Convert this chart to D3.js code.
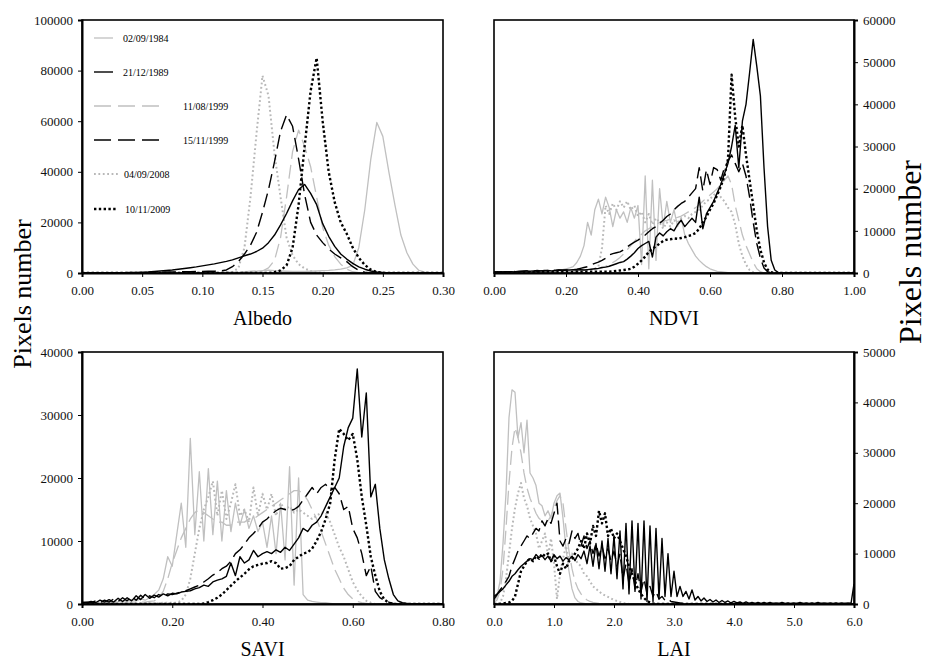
<!DOCTYPE html>
<html>
<head>
<meta charset="utf-8">
<script src="https://cdn.jsdelivr.net/npm/d3@7"></script>
<style>
  body { margin: 0; background: #fff; }
  svg { display: block; font-family: "Liberation Serif", "Times New Roman", serif; }
  .tick text { font-size: 13px; fill: #111; font-family: "Liberation Serif", "Times New Roman", serif; }
  .tick line { stroke: #000; }
</style>
</head>
<body>
<div id="chart"></div>
<script>
/* DATA */
const dates = ["02/09/1984", "21/12/1989", "11/08/1999", "15/11/1999", "04/09/2008", "10/11/2009"];

// bin widths of the four histograms
const albedoStep = 0.005, ndviStep = 0.01, saviStep = 0.01, laiStep = 0.05;

// Albedo, bins 0.000 .. 0.300
const albedo1984 = [
  0,0,0,0,0,0,0,0,0,0,
  0,0,0,0,0,0,0,0,0,0,
  0,0,0,0,0,0,200,400,600,700,
  900,1100,900,800,700,600,600,600,700,800,
  900,1000,1200,1500,2000,3000,10000,25000,45000,59500,
  54000,40000,27000,15000,8000,3500,1000,300,100,0,
  0];
const albedo1989 = [
  0,0,0,0,0,50,100,150,200,250,
  300,400,600,800,1000,1200,1500,1800,2100,2400,
  2800,3200,3600,4100,4600,5200,6000,6800,7500,8500,
  9800,12000,15000,19000,23500,28500,33000,35000,31500,27000,
  19500,14500,10500,7500,5500,3800,2400,1500,800,400,
  200,100,0,0,0,0,0,0,0,0,
  0];
const albedo1999a = [
  0,0,0,0,0,0,0,0,0,0,
  0,0,0,0,0,0,0,0,0,0,
  100,100,200,200,300,300,400,500,600,700,
  800,2000,5000,14000,30000,48000,56500,50000,42000,30000,
  18000,11000,6500,3500,1500,500,100,0,0,0,
  0,0,0,0,0,0,0,0,0,0,
  0];
const albedo1999b = [
  0,0,0,0,0,0,0,0,0,0,
  100,200,300,300,400,400,500,500,500,600,
  600,700,700,800,1200,2500,4500,7500,11000,16000,
  24000,33000,44000,56000,62500,58000,45000,31000,20000,15000,
  12000,9500,7500,6000,4500,2500,1000,300,0,0,
  0,0,0,0,0,0,0,0,0,0,
  0];
const albedo2008 = [
  0,0,0,0,0,0,0,0,0,0,
  0,0,0,0,0,0,0,0,0,0,
  0,0,0,0,100,300,2000,10000,30000,55000,
  78000,70000,47000,30000,14000,7000,3500,1800,800,300,
  100,0,0,0,0,0,0,0,0,0,
  0,0,0,0,0,0,0,0,0,0,
  0];
const albedo2009 = [
  0,0,0,0,0,0,0,0,0,0,
  0,0,0,0,0,0,0,0,0,0,
  0,0,0,0,0,0,0,0,0,0,
  0,0,300,1000,3000,10000,27000,50000,72000,85000,
  60000,40000,28000,20000,15500,10000,6000,3200,1300,400,
  100,0,0,0,0,0,0,0,0,0,
  0];

// NDVI, bins 0.00 .. 1.00
const ndvi1984 = [
  0,0,100,100,100,100,200,200,200,200,
  200,200,300,300,300,400,400,500,600,800,
  1000,1200,1500,2500,4000,6500,12000,9000,15000,17500,
  14000,18000,15500,11000,15000,13000,14500,12000,15500,13000,
  16000,2000,23000,1000,22000,3000,20000,11000,17000,12000,
  15000,11000,13000,9000,7000,5500,4000,3000,2200,1500,
  1000,700,400,300,200,100,0,0,0,0,
  0,0,0,0,0,0,0,0,0,0,
  0,0,0,0,0,0,0,0,0,0,
  0,0,0,0,0,0,0,0,0,0,
  0];
const ndvi1989 = [
  300,200,300,200,300,300,200,300,400,500,
  400,500,400,500,500,600,500,600,700,600,
  700,700,800,700,800,700,800,900,1000,1100,
  1300,1400,1600,1900,2200,2500,2700,3300,4000,4800,
  5800,6500,7000,7500,3800,8500,9500,8800,9800,10500,
  10000,11500,12500,11000,12000,13000,12000,18000,10500,14000,
  15500,17000,19000,21000,23500,26000,30000,35000,25000,36000,
  40000,47500,55400,49000,42000,25000,11000,3000,700,100,
  0,0,0,0,0,0,0,0,0,0,
  0,0,0,0,0,0,0,0,0,0,
  0];
const ndvi1999a = [
  0,0,100,100,100,200,200,200,300,300,
  300,300,400,400,400,400,500,500,500,500,
  500,500,500,550,600,600,600,700,800,1000,
  1200,1600,2000,2500,3000,3700,4500,5500,6500,7500,
  8500,9200,10000,10500,11000,11500,12000,12300,12500,12800,
  13000,13200,13500,14000,14500,15000,15500,16200,17000,17800,
  18500,19200,20000,21000,22000,23000,21000,16000,12500,9000,
  6500,4500,2500,1000,300,0,0,0,0,0,
  0,0,0,0,0,0,0,0,0,0,
  0,0,0,0,0,0,0,0,0,0,
  0];
const ndvi1999b = [
  200,300,200,300,300,400,300,400,400,500,
  500,500,600,500,600,600,700,600,700,700,
  700,700,800,900,1100,1300,1500,1900,2300,2600,
  3000,3500,4300,4600,4800,5000,5500,6200,6800,7300,
  7800,8400,9000,9800,10500,11000,11800,12500,13400,14000,
  15000,15800,16500,17000,18000,19000,20000,25000,19500,24500,
  21000,25000,24500,22000,25000,26500,28000,26000,24000,26000,
  23000,18000,12000,7000,3500,1200,300,0,0,0,
  0,0,0,0,0,0,0,0,0,0,
  0,0,0,0,0,0,0,0,0,0,
  0];
const ndvi2008 = [
  0,0,0,100,100,100,100,200,200,200,
  200,200,200,300,300,300,300,400,400,400,
  400,400,500,500,500,600,700,800,1000,1500,
  6000,16000,14000,16500,15000,17000,15500,17000,15000,16000,
  13500,14500,12000,14000,11500,13000,12000,10500,12000,11000,
  12500,12000,13000,13500,13000,14000,14500,15000,16000,17000,
  17500,18500,19000,18000,17000,15500,14500,11500,7000,4000,
  2000,700,200,0,0,0,0,0,0,0,
  0,0,0,0,0,0,0,0,0,0,
  0,0,0,0,0,0,0,0,0,0,
  0];
const ndvi2009 = [
  0,0,100,100,100,100,100,100,200,200,
  200,200,200,200,200,200,200,300,300,300,
  300,300,300,300,300,300,300,300,300,300,
  300,300,300,400,500,600,700,800,1000,1500,
  2200,3000,3900,5000,5800,6300,7000,7600,7900,8000,
  8200,8100,8300,8500,8800,9000,9500,10500,12000,13300,
  15000,16500,18500,20500,23000,27000,47000,37000,30000,35000,
  28000,22000,16000,10000,5500,2500,800,200,0,0,
  0,0,0,0,0,0,0,0,0,0,
  0,0,0,0,0,0,0,0,0,0,
  0];

// SAVI, bins 0.00 .. 0.80
const savi1984 = [
  200,300,200,300,200,400,300,400,300,500,
  500,700,500,800,600,1000,1500,2200,4000,7500,
  6000,11000,16000,9000,26300,11000,21000,10000,21500,11000,
  19500,10000,18000,11500,16000,12500,15000,12000,14000,11500,
  13000,9000,14000,8000,16000,7000,21800,3000,20000,1500,
  600,400,300,200,200,100,0,0,0,0,
  0,0,0,0,0,0,0,0,0,0,
  0,0,0,0,0,0,0,0,0,0,
  0];
const savi1989 = [
  300,200,400,200,600,300,700,300,900,400,
  1000,500,1300,700,1500,900,1400,1100,1600,1300,
  1700,1600,1900,2000,2100,2400,2600,3000,2800,3500,
  3800,4000,4400,6500,4500,7500,6500,7000,8500,7500,
  8000,8300,8000,8600,8200,9000,8500,9500,10500,12000,
  11500,12500,13000,14000,15500,17000,18500,20000,25000,28000,
  29500,37300,26500,33500,17000,19000,12000,7000,4000,1500,
  500,200,100,0,0,0,0,0,0,0,
  0];
const savi1999a = [
  100,100,100,100,200,200,200,200,300,300,
  300,300,300,300,300,400,500,1000,2000,4000,
  6500,8500,10500,12000,13500,14500,15000,14500,14000,13500,
  13000,13000,12500,12500,13000,13000,13000,13500,13500,14000,
  14500,15000,15500,16000,16500,17000,17500,18000,18000,17500,
  16500,15000,13500,11500,9500,7500,5500,4000,2500,1500,
  800,400,200,100,0,0,0,0,0,0,
  0,0,0,0,0,0,0,0,0,0,
  0];
const savi1999b = [
  200,300,200,500,200,600,300,800,400,1000,
  500,1200,600,1400,800,1300,1000,1500,1200,1600,
  1500,1700,1900,2100,2400,2700,3000,3500,4000,4600,
  5000,5600,6000,6800,8000,8600,9500,10500,11200,12000,
  13000,13500,14200,14800,15200,15000,14800,15000,15500,16500,
  17500,18500,17500,18500,19000,18000,18500,17500,15000,15500,
  12000,10500,8000,4500,6000,2000,1000,600,300,100,
  0,0,0,0,0,0,0,0,0,0,
  0];
const savi2008 = [
  0,0,0,0,0,0,0,0,0,0,
  0,0,0,100,100,100,100,100,200,200,
  200,200,500,1500,4000,8000,12000,15000,17000,19500,
  14000,18000,13500,16000,19000,14000,15000,13000,18500,14000,
  17500,15000,17500,14000,16000,15000,15500,14500,15000,14500,
  14000,13500,14000,14500,14500,13000,11000,9000,7500,5500,
  3500,2200,1200,500,200,0,0,0,0,0,
  0,0,0,0,0,0,0,0,0,0,
  0];
const savi2009 = [
  0,0,0,0,0,0,0,0,0,0,
  0,0,0,0,0,0,0,0,0,0,
  0,0,0,0,0,0,0,100,300,600,
  1000,1500,2200,2900,3600,4200,4800,5500,6000,6200,
  6400,6500,6800,6500,5600,5700,6000,7000,7500,8000,
  8200,8800,10000,11500,13500,16000,23000,27800,27000,26000,
  27000,23000,17000,12500,7500,4500,2000,700,200,0,
  0,0,0,0,0,0,0,0,0,0,
  0];

// LAI, bins 0.00 .. 6.00
const lai1984 = [
  500,1500,4500,12000,22000,37000,42500,42000,33000,36000,
  30000,36500,26000,25000,23500,20000,19500,17500,18500,17000,
  20000,21500,22000,17000,11000,6500,3000,1200,500,200,
  100,0,0,0,0,0,0,0,0,0,
  0,0,0,0,0,0,0,0,0,0,
  0,0,0,0,0,0,0,0,0,0,
  0,0,0,0,0,0,0,0,0,0,
  0,0,0,0,0,0,0,0,0,0,
  0,0,0,0,0,0,0,0,0,0,
  0,0,0,0,0,0,0,0,0,0,
  0,0,0,0,0,0,0,0,0,0,
  0,0,0,0,0,0,0,0,0,0,
  0];
const lai1989 = [
  1500,2000,2500,3000,3800,4500,5500,6000,6800,7500,
  8000,8500,9000,8800,9800,9200,9600,8800,9500,8500,
  9800,9000,9500,8500,9200,8800,9500,8600,9800,9000,
  10500,8000,11500,7500,12000,7000,12500,6500,13000,6000,
  13500,5000,14500,3000,16000,2000,16500,2500,16000,1000,
  16500,500,15500,500,15000,1000,13000,1500,10000,1500,
  6500,1500,3500,1500,2500,1000,2800,800,1500,600,
  1200,500,900,400,800,300,700,300,600,200,
  500,200,400,100,400,100,300,100,300,100,
  300,100,300,100,200,100,300,100,200,100,
  200,100,300,100,200,100,200,100,300,100,
  200,100,200,100,200,100,200,100,200,100,
  4000];
const lai1999a = [
  300,800,2500,7000,15000,24000,31000,35000,33000,30000,
  26000,23000,21000,19500,18000,17000,16500,16000,16500,17500,
  19000,20500,21500,20000,15000,10500,7000,4500,3000,2000,
  1300,800,500,300,200,100,0,0,0,0,
  0,0,0,0,0,0,0,0,0,0,
  0,0,0,0,0,0,0,0,0,0,
  0,0,0,0,0,0,0,0,0,0,
  0,0,0,0,0,0,0,0,0,0,
  0,0,0,0,0,0,0,0,0,0,
  0,0,0,0,0,0,0,0,0,0,
  0,0,0,0,0,0,0,0,0,0,
  0,0,0,0,0,0,0,0,0,0,
  0];
const lai1999b = [
  1000,1800,2800,3500,4500,5500,7500,9000,10500,11500,
  12500,13500,13000,14000,15000,14500,16500,15500,17000,16000,
  18000,20000,12500,11500,13000,12000,14500,13000,14000,11500,
  13500,11000,12500,10000,12000,9500,11500,9000,11000,8500,
  10500,7500,10000,5000,8000,4000,7000,3000,6000,2500,
  5000,2000,3500,1500,2500,1000,1500,700,1000,500,
  400,300,200,100,0,0,0,0,0,0,
  0,0,0,0,0,0,0,0,0,0,
  0,0,0,0,0,0,0,0,0,0,
  0,0,0,0,0,0,0,0,0,0,
  0,0,0,0,0,0,0,0,0,0,
  0,0,0,0,0,0,0,0,0,0,
  0];
const lai2008 = [
  0,0,200,1500,5000,10000,15000,19000,22000,24000,
  21000,19500,17000,15500,14000,11000,12500,14000,9500,13000,
  8000,1000,6000,9000,11500,8500,10000,9000,8000,7500,
  6000,5500,4500,3500,3000,2500,2000,1700,1400,1100,
  800,600,400,200,100,0,0,0,0,0,
  0,0,0,0,0,0,0,0,0,0,
  0,0,0,0,0,0,0,0,0,0,
  0,0,0,0,0,0,0,0,0,0,
  0,0,0,0,0,0,0,0,0,0,
  0,0,0,0,0,0,0,0,0,0,
  0,0,0,0,0,0,0,0,0,0,
  0,0,0,0,0,0,0,0,0,0,
  0];
const lai2009 = [
  0,0,0,100,200,300,600,1500,4000,6500,
  7500,8500,9000,8500,9500,9000,10000,9500,10000,8500,
  9500,7500,6000,8000,7000,8500,9000,10000,11000,12500,
  11000,14000,12000,15500,13500,18500,16000,18000,13500,15000,
  13000,14000,12500,11000,9500,7500,6000,4500,3000,2000,
  1200,600,300,100,0,0,0,0,0,0,
  0,0,0,0,0,0,0,0,0,0,
  0,0,0,0,0,0,0,0,0,0,
  0,0,0,0,0,0,0,0,0,0,
  0,0,0,0,0,0,0,0,0,0,
  0,0,0,0,0,0,0,0,0,0,
  0,0,0,0,0,0,0,0,0,0,
  0];

/* STYLES, one per date */
const styles = {
  "02/09/1984": { color: "#c0c0c0", width: 1.3, dash: null },
  "21/12/1989": { color: "#000", width: 1.4, dash: null },
  "11/08/1999": { color: "#c0c0c0", width: 1.3, dash: "14,6" },
  "15/11/1999": { color: "#000", width: 1.4, dash: "14,6" },
  "04/09/2008": { color: "#b8b8b8", width: 2, dash: "1.8,2.6" },
  "10/11/2009": { color: "#000", width: 2.4, dash: "2.4,2.4" }
};
// greys underneath, blacks on top
const drawOrder = ["02/09/1984", "11/08/1999", "04/09/2008", "21/12/1989", "15/11/1999", "10/11/2009"];

const panels = [
  { id: "albedo", title: "Albedo", left: 82, right: 443, top: 20, bottom: 273, side: "left",
    step: albedoStep, xMax: 0.30, xTick: 0.05, xFmt: ".2f", yMax: 100000, yTick: 20000,
    series: [albedo1984, albedo1989, albedo1999a, albedo1999b, albedo2008, albedo2009] },
  { id: "ndvi", title: "NDVI", left: 494, right: 854, top: 20, bottom: 273, side: "right",
    step: ndviStep, xMax: 1.0, xTick: 0.2, xFmt: ".2f", yMax: 60000, yTick: 10000,
    series: [ndvi1984, ndvi1989, ndvi1999a, ndvi1999b, ndvi2008, ndvi2009] },
  { id: "savi", title: "SAVI", left: 82, right: 443, top: 352, bottom: 604, side: "left",
    step: saviStep, xMax: 0.8, xTick: 0.2, xFmt: ".2f", yMax: 40000, yTick: 10000,
    series: [savi1984, savi1989, savi1999a, savi1999b, savi2008, savi2009] },
  { id: "lai", title: "LAI", left: 494, right: 854, top: 352, bottom: 604, side: "right",
    step: laiStep, xMax: 6.0, xTick: 1.0, xFmt: ".1f", yMax: 50000, yTick: 10000,
    series: [lai1984, lai1989, lai1999a, lai1999b, lai2008, lai2009] }
];

const width = 928, height = 660;

const svg = d3.select("#chart").append("svg")
  .attr("width", width)
  .attr("height", height);

panels.forEach(p => {
  const x = d3.scaleLinear().domain([0, p.xMax]).range([p.left, p.right]);
  const y = d3.scaleLinear().domain([0, p.yMax]).range([p.bottom, p.top]);

  const g = svg.append("g").attr("class", p.id);

  g.append("clipPath").attr("id", "clip-" + p.id)
    .append("rect")
    .attr("x", p.left).attr("y", p.top - 2)
    .attr("width", p.right - p.left + 2).attr("height", p.bottom - p.top + 2);

  const line = d3.line()
    .x((d, i) => x(i * p.step))
    .y(d => y(d));

  const plot = g.append("g").attr("clip-path", `url(#clip-${p.id})`);
  drawOrder.forEach(date => {
    const s = styles[date];
    plot.append("path")
      .datum(p.series[dates.indexOf(date)])
      .attr("fill", "none")
      .attr("stroke", s.color)
      .attr("stroke-width", s.width)
      .attr("stroke-dasharray", s.dash)
      .attr("stroke-linejoin", "round")
      .attr("d", line);
  });

  // frame
  g.append("rect")
    .attr("x", p.left).attr("y", p.top)
    .attr("width", p.right - p.left).attr("height", p.bottom - p.top)
    .attr("fill", "none").attr("stroke", "#000").attr("stroke-width", 1.6);

  // axes
  const xTicks = d3.range(0, p.xMax + p.xTick / 2, p.xTick);
  const yTicks = d3.range(0, p.yMax + p.yTick / 2, p.yTick);

  g.append("g")
    .attr("transform", `translate(0,${p.bottom})`)
    .call(d3.axisBottom(x).tickValues(xTicks).tickFormat(d3.format(p.xFmt))
      .tickSize(4).tickPadding(9))
    .attr("font-family", null)
    .call(a => a.select(".domain").attr("stroke-width", 2));

  const yAxis = p.side === "left" ? d3.axisLeft(y) : d3.axisRight(y);
  g.append("g")
    .attr("transform", `translate(${p.side === "left" ? p.left : p.right},0)`)
    .call(yAxis.tickValues(yTicks).tickFormat(d3.format("d")).tickSize(4).tickPadding(5))
    .attr("font-family", null)
    .call(a => a.select(".domain").attr("stroke-width", 2));

  g.append("text")
    .attr("x", (p.left + p.right) / 2)
    .attr("y", p.bottom + 52)
    .attr("text-anchor", "middle")
    .attr("font-size", 20)
    .text(p.title);
});

// legend in the albedo panel
const legendRows = [
  { date: "02/09/1984", y: 38, len: 19, tx: 123 },
  { date: "21/12/1989", y: 72, len: 19, tx: 123 },
  { date: "11/08/1999", y: 106, len: 65, tx: 183 },
  { date: "15/11/1999", y: 140, len: 65, tx: 183 },
  { date: "04/09/2008", y: 174, len: 24, tx: 124 },
  { date: "10/11/2009", y: 209, len: 24, tx: 125 }
];
const legend = svg.append("g").attr("class", "legend");
legendRows.forEach(r => {
  const s = styles[r.date];
  legend.append("line")
    .attr("x1", 94).attr("x2", 94 + r.len)
    .attr("y1", r.y).attr("y2", r.y)
    .attr("stroke", s.color)
    .attr("stroke-width", s.width)
    .attr("stroke-dasharray", s.dash === "14,6" ? "17,7" : s.dash);
  legend.append("text")
    .attr("x", r.tx).attr("y", r.y + 3.5)
    .attr("font-size", 10)
    .text(r.date);
});

// y titles
svg.append("text")
  .attr("transform", "translate(31,294) rotate(-90)")
  .attr("text-anchor", "middle")
  .attr("font-size", 26)
  .text("Pixels number");
svg.append("text")
  .attr("transform", "translate(921,252) rotate(-90)")
  .attr("text-anchor", "middle")
  .attr("font-size", 32)
  .text("Pixels number");
</script>
</body>
</html>
